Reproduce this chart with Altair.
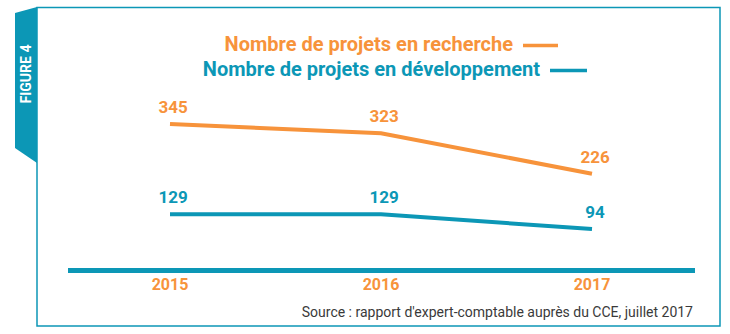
import altair as alt
import pandas as pd

# ---- data ----
years = [2015, 2016, 2017]
recherche = [345, 323, 226]
developpement = [129, 129, 94]
series_names = ["Nombre de projets en recherche", "Nombre de projets en développement"]
source_text = "Source : rapport d'expert-comptable auprès du CCE, juillet 2017"
figure_label = "FIGURE 4"

ORANGE = "#F7933B"
TEAL = "#0C97B6"
FONT = "Roboto"

rows = []
for y, v in zip(years, recherche):
    rows.append({"year": y, "value": v, "series": series_names[0]})
for y, v in zip(years, developpement):
    rows.append({"year": y, "value": v, "series": series_names[1]})
df = pd.DataFrame(rows)
df_years = pd.DataFrame({"year": years})

xscale = alt.Scale(domain=[2015, 2017], range=[170, 592], nice=False, zero=False)
yscale = alt.Scale(domain=[94, 345], range=[229, 124], nice=False, zero=False)
cscale = alt.Scale(domain=series_names, range=[ORANGE, TEAL])

one = alt.Data(values=[{"a": 1}])

# frame
frame = alt.Chart(one).mark_rect(fill="white", stroke=TEAL, strokeWidth=1.5).encode(
    x=alt.value(37), x2=alt.value(720), y=alt.value(7.5), y2=alt.value(326)
)

# figure tab (trapezoid)
tab_df = pd.DataFrame({"px": [15, 37], "top": [13, 7], "bot": [148, 163]})
tab = alt.Chart(tab_df).mark_area(color=TEAL, opacity=1).encode(
    x=alt.X("px:Q", scale=None, axis=None),
    y=alt.Y("top:Q", scale=None, axis=None),
    y2="bot:Q",
)
tab_text = alt.Chart(one).mark_text(
    text=figure_label, angle=270, color="white", font=FONT, fontWeight="bold",
    fontSize=14, align="center", baseline="middle"
).encode(x=alt.value(27), y=alt.value(74))

# legend
leg1 = alt.Chart(one).mark_text(
    text=series_names[0], color=ORANGE, font=FONT, fontWeight="bold", fontSize=20,
    align="right", baseline="middle"
).encode(x=alt.value(513), y=alt.value(45))
leg2 = alt.Chart(one).mark_text(
    text=series_names[1], color=TEAL, font=FONT, fontWeight="bold", fontSize=20,
    align="right", baseline="middle"
).encode(x=alt.value(540), y=alt.value(70))
dash1 = alt.Chart(one).mark_rule(color=ORANGE, strokeWidth=3.5).encode(
    x=alt.value(523), x2=alt.value(558), y=alt.value(45.5)
)
dash2 = alt.Chart(one).mark_rule(color=TEAL, strokeWidth=3.5).encode(
    x=alt.value(550), x2=alt.value(587), y=alt.value(70.5)
)

# baseline axis bar
axis_bar = alt.Chart(one).mark_rule(color=TEAL, strokeWidth=5).encode(
    x=alt.value(68), x2=alt.value(695), y=alt.value(270.5)
)

base = alt.Chart(df).encode(
    x=alt.X("year:Q", scale=xscale, axis=None),
    y=alt.Y("value:Q", scale=yscale, axis=None),
    color=alt.Color("series:N", scale=cscale, legend=None),
)
lines = base.mark_line(strokeWidth=4)
labels = base.mark_text(
    font=FONT, fontWeight="bold", fontSize=17, dy=-16, dx=3, baseline="middle"
).encode(text=alt.Text("value:Q"))

year_labels = alt.Chart(df_years).mark_text(
    font=FONT, fontWeight="bold", fontSize=16, color=ORANGE, baseline="middle"
).encode(
    x=alt.X("year:Q", scale=xscale, axis=None),
    y=alt.value(285),
    text=alt.Text("year:Q", format="d"),
)

source = alt.Chart(one).mark_text(
    text=source_text, font=FONT, fontSize=14, color="#3a3a3a",
    align="right", baseline="middle"
).encode(x=alt.value(693), y=alt.value(313))

chart = alt.layer(
    frame, tab, tab_text, leg1, leg2, dash1, dash2, axis_bar,
    lines, labels, year_labels, source
).properties(
    width=730, height=334, padding=0, autosize="none", background="white"
).configure_view(stroke=None)

chart.save("out.html", embed_options={"renderer": "svg", "actions": False})
